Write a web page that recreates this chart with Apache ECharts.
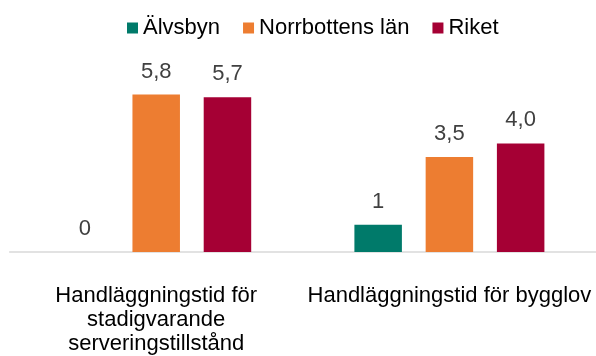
<!DOCTYPE html>
<html>
<head>
<meta charset="utf-8">
<style>
  html, body { margin: 0; padding: 0; background: #ffffff; }
  #chart { width: 596px; height: 356px; }
</style>
<script src="https://cdn.jsdelivr.net/npm/echarts@6/dist/echarts.min.js"></script>
</head>
<body>
<div id="chart"></div>
<script>
// Handläggningstider (veckor) per område
const categories = [
  'Handläggningstid för\nstadigvarande\nserveringstillstånd',
  'Handläggningstid för bygglov'
];
const seriesNames = ['Älvsbyn', 'Norrbottens län', 'Riket'];
const alvsbyn = [0, 1];
const norrbotten = [5.8, 3.5];
const riket = [5.7, 4.0];
// Decimaler som visas i etiketterna för respektive serie
const decimals = [0, 1, 1];
const colors = ['#007A6A', '#ED7D31', '#A50034'];

const values = [alvsbyn, norrbotten, riket];

const chart = echarts.init(document.getElementById('chart'), null, { renderer: 'canvas' });

const font = 'Liberation Sans, Arial, sans-serif';

chart.setOption({
  animation: false,
  color: colors,
  legend: {
    top: 12,
    left: 122,
    itemWidth: 11,
    itemHeight: 11,
    itemGap: 23,
    icon: 'rect',
    textStyle: { fontFamily: font, fontSize: 22, color: '#000000' },
    data: seriesNames
  },
  grid: { left: 9.6, width: 589.6, top: 62, bottom: 103.5, containLabel: false },
  xAxis: {
    type: 'category',
    data: categories,
    axisLine: { lineStyle: { color: '#D9D9D9', width: 1.5 } },
    axisTick: { show: false },
    axisLabel: {
      interval: 0,
      margin: 32,
      fontFamily: font,
      fontSize: 22,
      color: '#000000',
      lineHeight: 24
    }
  },
  yAxis: {
    type: 'value',
    min: 0,
    max: 7,
    show: false,
    splitLine: { show: false }
  },
  series: seriesNames.map((name, i) => ({
    name: name,
    type: 'bar',
    data: values[i],
    barWidth: 47.5,
    barGap: '50%',
    itemStyle: { color: colors[i] },
    label: {
      show: true,
      position: 'top',
      distance: 12,
      fontFamily: font,
      fontSize: 22,
      color: '#404040',
      formatter: p => p.value.toFixed(decimals[i]).replace('.', ',')
    }
  }))
});
</script>
</body>
</html>
